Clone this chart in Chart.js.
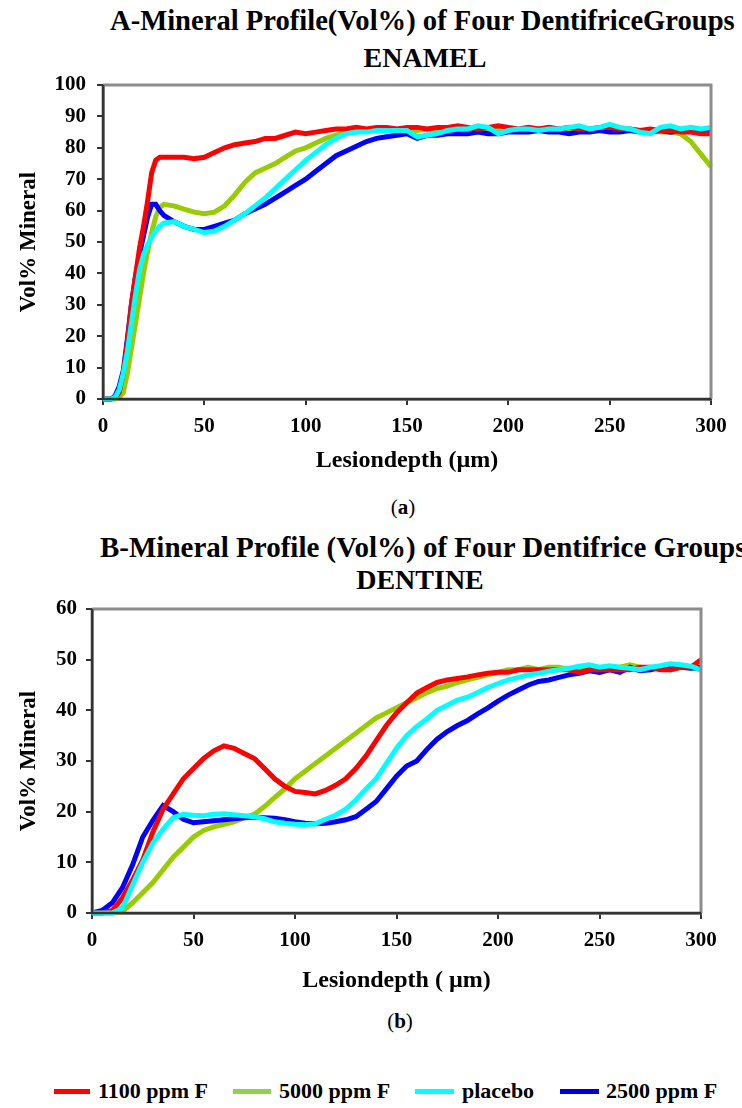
<!DOCTYPE html>
<html>
<head>
<meta charset="utf-8">
<script src="https://cdn.jsdelivr.net/npm/chart.js@4.4.1/dist/chart.umd.min.js"></script>
<style>
  body { margin: 0; width: 742px; height: 1108px; overflow: hidden; background: #fff; position: relative; }
  .txt { position: absolute; font-family: "Liberation Serif", "Times New Roman", serif; font-weight: bold; color: #000; white-space: nowrap; line-height: 1; }
  canvas { position: absolute; left: 0; }
  .lg { position: absolute; height: 5px; }
</style>
</head>
<body>
<div class="txt" style="left:110px; top:7px; font-size:28.6px;">A-Mineral Profile(Vol%) of Four DentifriceGroups</div>
<div class="txt" style="left:0; width:850px; text-align:center; top:44px; font-size:28px;">ENAMEL</div>
<div class="txt" style="left:0; width:806px; text-align:center; top:497px; font-size:21px; font-weight:normal;">(<b>a</b>)</div>
<div class="txt" style="left:100px; top:533px; font-size:29px;">B-Mineral Profile (Vol%) of Four Dentifrice Groups</div>
<div class="txt" style="left:0; width:840px; text-align:center; top:566px; font-size:28px;">DENTINE</div>
<div class="txt" style="left:0; width:800px; text-align:center; top:1011px; font-size:21px; font-weight:normal;">(<b>b</b>)</div>

<canvas id="enamel" width="742" height="500" style="top:0"></canvas>
<canvas id="dentine" width="742" height="500" style="top:520px"></canvas>

<div class="lg" style="left:54px; top:1089px; width:36px; background:#ff0000"></div>
<div class="txt" style="left:98px; top:1080px; font-size:22px;">1100 ppm F</div>
<div class="lg" style="left:233px; top:1089px; width:38px; background:#92d050"></div>
<div class="txt" style="left:279px; top:1080px; font-size:22px;">5000 ppm F</div>
<div class="lg" style="left:415px; top:1089px; width:39px; background:#00ffff"></div>
<div class="txt" style="left:462px; top:1080px; font-size:22px;">placebo</div>
<div class="lg" style="left:560px; top:1089px; width:39px; background:#0000cc"></div>
<div class="txt" style="left:606px; top:1080px; font-size:22px;">2500 ppm F</div>

<script>
// A - enamel, lesion depth in um
const depthA = [0, 2, 4, 6, 8, 10, 12, 14, 16, 18, 20, 22, 24, 26, 28, 30,
  35, 40, 45, 50, 55, 60, 65, 70, 75, 80, 85, 90, 95, 100, 105, 110, 115, 120, 125, 130, 135, 140, 145, 150,
  155, 160, 165, 170, 175, 180, 185, 190, 195, 200, 205, 210, 215, 220, 225, 230, 235, 240, 245, 250,
  255, 260, 265, 270, 275, 280, 285, 290, 295, 300];
const enamel1100 = [0, 0, 0, 0.5, 2, 8, 18, 30, 39, 48, 55, 63, 72, 76, 77, 77,
  77, 77, 76.5, 77, 78.5, 80, 81, 81.5, 82, 83, 83, 84, 85, 84.5, 85, 85.5, 86, 86, 86.5, 86, 86.5, 86.5, 86, 86.5,
  86.5, 86, 86.5, 86.5, 87, 86.5, 86, 86.5, 87, 86.5, 86, 86.5, 86, 86.5, 86, 86.5, 86, 86, 86.5, 86.5,
  86, 86, 85.5, 86, 85.5, 85.5, 85, 85, 84.5, 84.5];
const enamel5000 = [0, 0, 0, 0, 0.5, 2, 8, 16, 24, 32, 40, 47, 53, 58, 61, 62,
  61.5, 60.5, 59.5, 59, 59.5, 61.5, 65, 69, 72, 73.5, 75, 77, 79, 80, 81.5, 83, 84, 85, 85, 85.5, 85.5, 85.5, 85.5, 85.5,
  85.5, 86, 85.5, 85.5, 86, 86, 85.5, 86, 86, 85.5, 85.5, 86, 86, 85.5, 86, 86, 85.5, 86, 86, 85.5,
  85.5, 86, 85.5, 85.5, 85, 85, 84.5, 82, 78, 74];
const enamelPlacebo = [0, 0, 0, 0.5, 3, 8, 15, 24, 33, 41, 46, 49, 51.5, 53.5, 55, 56,
  56.5, 55, 54, 53, 53.5, 55, 57, 59, 61.5, 64, 67, 70, 73, 76, 78.5, 81, 83, 84.5, 85, 85, 85.5, 85.5, 85.5, 85.5,
  83.5, 84, 84.5, 85.5, 86, 86, 87, 86.5, 84.5, 85.5, 86, 86, 85.5, 86, 86, 86.5, 87, 86, 86.5, 87.5,
  86.5, 86, 85, 84.5, 86.5, 87, 86, 86.5, 86, 86.5];
const enamel2500 = [0, 0, 0, 1, 4, 9, 19, 30, 39, 46, 52, 58, 62, 62, 60, 58.5,
  56.5, 55, 54, 54, 55, 56, 57, 59, 60.5, 62, 64, 66, 68, 70, 72.5, 75, 77.5, 79, 80.5, 82, 83, 83.5, 84, 84.5,
  83, 84, 84, 84.5, 84.5, 84.5, 85, 84.5, 84.5, 85, 85, 85, 85.5, 85, 85, 84.5, 85, 85, 85.5, 85,
  85, 85.5, 85, 85, 85.5, 85, 85.5, 85.5, 85.5, 85.5];
const ticksA = [0, 10, 20, 30, 40, 50, 60, 70, 80, 90, 100];

// B - dentine
const depthB = [0, 5, 10, 15, 20, 25, 30, 35, 40, 45, 50, 55, 60, 65, 70, 75, 80, 85, 90, 95, 100,
  105, 110, 115, 120, 125, 130, 135, 140, 145, 150, 155, 160, 165, 170, 175, 180, 185, 190, 195, 200,
  205, 210, 215, 220, 225, 230, 235, 240, 245, 250, 255, 260, 265, 270, 275, 280, 285, 290, 295, 300];
const dentine1100 = [0, 0, 0.5, 3, 6.5, 10.5, 16, 20.5, 23.5, 26.5, 28.5, 30.5, 32, 33, 32.5, 31.5, 30.5, 28.5, 26.5, 25, 24,
  23.8, 23.5, 24.2, 25.2, 26.5, 28.5, 31, 34, 37, 39.5, 41.5, 43.4, 44.5, 45.5, 46, 46.3, 46.6, 47, 47.3, 47.5,
  47.5, 48, 48, 48, 48, 48, 48, 47.5, 48, 48, 48, 48, 48, 48.5, 48.5, 48, 48, 48.5, 48.5, 50];
const dentine5000 = [0, 0, 0, 0.3, 2, 4, 6, 8.5, 11, 13, 15, 16.3, 17, 17.5, 18, 18.8, 19.5, 21, 22.8, 24.5, 26.5,
  28, 29.5, 31, 32.5, 34, 35.5, 37, 38.5, 39.5, 40.5, 41.5, 42.5, 43.5, 44.3, 44.8, 45.5, 46, 46.5, 47, 47.5,
  48, 48, 48.5, 48, 48.5, 48.5, 48, 48.5, 48.5, 48, 48.5, 48.5, 49, 48.5, 48, 48.5, 48, 48.5, 48.5, 48];
const dentinePlacebo = [0, 0, 0, 1, 5.5, 10, 13.8, 16.5, 18.8, 19.5, 19.3, 19.2, 19.5, 19.6, 19.4, 19.2, 19, 18.6, 18, 17.7, 17.5,
  17.4, 17.6, 18.5, 19.3, 20.5, 22.3, 24.5, 26.5, 29.5, 32.5, 35, 36.8, 38.3, 40, 41, 42, 42.6, 43.5, 44.5, 45.3,
  46, 46.5, 47, 47.3, 47.7, 48, 48.3, 48.7, 49, 48.5, 48.8, 48.5, 48.3, 48, 48.5, 48.8, 49.2, 49, 48.7, 48];
const dentine2500 = [0, 0.5, 2, 5, 9.5, 15, 18.3, 21.2, 20, 18.5, 17.8, 18, 18.2, 18.4, 18.6, 18.8, 18.9, 18.8, 18.7, 18.4, 18,
  17.7, 17.6, 17.7, 18, 18.4, 19, 20.5, 22, 24.5, 27, 29, 30, 32.3, 34.3, 35.8, 37, 38, 39.3, 40.5, 41.8,
  43, 44, 45, 45.7, 46, 46.5, 47, 47.3, 47.8, 47.5, 48, 47.5, 48.5, 47.8, 48, 48.5, 48.3, 48.5, 48.3, 48.5];
const ticksB = [0, 10, 20, 30, 40, 50, 60];
const ticksX = [0, 50, 100, 150, 200, 250, 300];

const serif = "'Liberation Serif', 'Times New Roman', serif";

// gray frame round the plot area, like the excel chart
const framePlugin = {
  id: "frame",
  afterDatasetsDraw(chart) {
    const a = chart.chartArea;
    const ctx = chart.ctx;
    ctx.save();
    ctx.strokeStyle = "#8c8c8c";
    ctx.lineWidth = 3;
    ctx.beginPath();
    ctx.moveTo(a.left, a.top);
    ctx.lineTo(a.right, a.top);
    ctx.lineTo(a.right, a.bottom);
    ctx.stroke();
    ctx.strokeStyle = "#333";
    ctx.lineWidth = 2.5;
    ctx.beginPath();
    ctx.moveTo(a.left, a.top);
    ctx.lineTo(a.left, a.bottom);
    ctx.lineTo(a.right, a.bottom);
    ctx.stroke();
    ctx.restore();
  }
};

function series(xs, ys) {
  return xs.map((x, i) => ({ x: x, y: ys[i] }));
}

function makeChart(id, xs, s1100, s5000, sPlacebo, s2500, yTicks, box) {
  const ds = (label, data, color, order) => ({
    label: label,
    data: series(xs, data),
    borderColor: color,
    backgroundColor: color,
    borderWidth: 5,
    pointRadius: 0,
    tension: 0,
    clip: false,
    order: order
  });
  return new Chart(document.getElementById(id), {
    type: "line",
    data: {
      datasets: [
        ds("1100 ppm F", s1100, "#ff0000", 1),
        ds("5000 ppm F", s5000, "#99cc00", 3),
        ds("placebo", sPlacebo, "#00ffff", 0),
        ds("2500 ppm F", s2500, "#0000ff", 2)
      ]
    },
    options: {
      responsive: false,
      animation: false,
      devicePixelRatio: 1,
      layout: { padding: { top: box.top, right: box.right, bottom: box.bottom, left: 0 } },
      plugins: { legend: { display: false }, tooltip: { enabled: false } },
      scales: {
        x: {
          type: "linear",
          min: 0, max: 300,
          afterBuildTicks: (s) => { s.ticks = ticksX.map(v => ({ value: v })); },
          afterFit: (s) => { s.height = box.xh; },
          grid: { drawOnChartArea: false, drawTicks: true, tickLength: 6, color: "#333", lineWidth: 2 },
          border: { color: "#333", width: 2.5 },
          ticks: { color: "#000", padding: box.xpad, font: { family: serif, size: 21, weight: "bold" } },
          title: { display: true, text: box.xtitle, color: "#000", padding: { top: 0, bottom: 5 },
                   font: { family: serif, size: 24, weight: "bold" } }
        },
        y: {
          min: 0, max: yTicks[yTicks.length - 1],
          afterBuildTicks: (s) => { s.ticks = yTicks.map(v => ({ value: v })); },
          afterFit: (s) => { s.width = box.yw; },
          grid: { drawOnChartArea: false, drawTicks: true, tickLength: 6, color: "#333", lineWidth: 2 },
          border: { color: "#333", width: 2.5 },
          ticks: { color: "#000", padding: box.ypad, font: { family: serif, size: 21, weight: "bold" } },
          title: { display: true, text: "Vol% Mineral", color: "#000", padding: { top: 15, bottom: 0 },
                   font: { family: serif, size: 23, weight: "bold" } }
        }
      }
    },
    plugins: [framePlugin]
  });
}

makeChart("enamel", depthA, enamel1100, enamel5000, enamelPlacebo, enamel2500, ticksA,
  { top: 85, right: 31, bottom: 20, xh: 81, yw: 103, xpad: 9, ypad: 11, xtitle: "Lesiondepth (\u00b5m)" });
makeChart("dentine", depthB, dentine1100, dentine5000, dentinePlacebo, dentine2500, ticksB,
  { top: 89, right: 41, bottom: 20, xh: 87, yw: 92, xpad: 9, ypad: 9, xtitle: "Lesiondepth ( \u00b5m)" });
</script>
</body>
</html>
